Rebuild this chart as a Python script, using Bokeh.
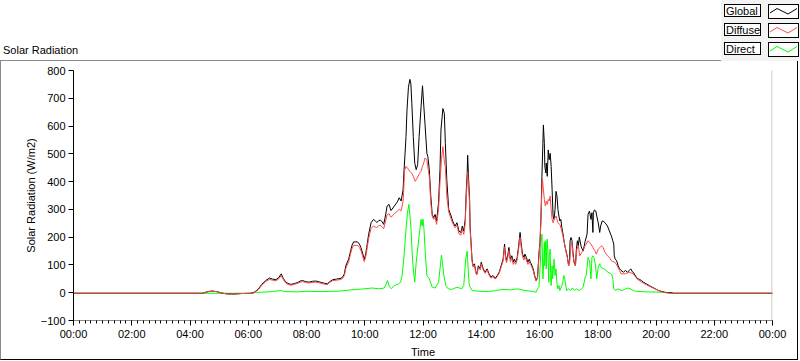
from bokeh.plotting import figure
from bokeh.models import Range1d, FixedTicker, PolyAnnotation, Div
from bokeh.layouts import column
from bokeh.embed import file_html
from bokeh.resources import INLINE

# ---------------- data ----------------
x_tick_hours = [0, 2, 4, 6, 8, 10, 12, 14, 16, 18, 20, 22, 24]
x_tick_labels = ["00:00", "02:00", "04:00", "06:00", "08:00", "10:00", "12:00",
                 "14:00", "16:00", "18:00", "20:00", "22:00", "00:00"]
y_ticks = [-100, 0, 100, 200, 300, 400, 500, 600, 700, 800]

global_time = ["00:00", "04:25", "04:35", "04:45", "04:55", "05:05", "05:15", "05:30", "05:45", "06:05",
    "06:11", "06:20", "06:28", "06:36", "06:44", "06:50", "06:57", "07:03", "07:08", "07:12",
    "07:17", "07:22", "07:28", "07:35", "07:42", "07:47", "07:52", "07:58", "08:05", "08:12",
    "08:19", "08:25", "08:30", "08:37", "08:43", "08:48", "08:54", "09:02", "09:11", "09:15",
    "09:18", "09:21", "09:27", "09:31", "09:34", "09:37", "09:45", "09:49", "09:52", "09:56",
    "09:59", "10:02", "10:04", "10:08", "10:13", "10:18", "10:22", "10:25", "10:28", "10:32",
    "10:36", "10:39", "10:43", "10:46", "10:50", "10:54", "10:58", "11:01", "11:05", "11:08",
    "11:11", "11:15", "11:19", "11:21", "11:23", "11:25", "11:27", "11:30", "11:33", "11:35",
    "11:37", "11:40", "11:43", "11:46", "11:49", "11:52", "11:56", "11:59", "12:01", "12:04",
    "12:08", "12:10", "12:13", "12:16", "12:19", "12:22", "12:25", "12:28", "12:32", "12:35",
    "12:37", "12:41", "12:44", "12:46", "12:49", "12:53", "12:58", "13:01", "13:06", "13:10",
    "13:14", "13:18", "13:21", "13:24", "13:27", "13:29", "13:31", "13:32", "13:34", "13:36",
    "13:37", "13:39", "13:41", "13:43", "13:46", "13:49", "13:51", "13:54", "13:58", "14:00",
    "14:04", "14:08", "14:12", "14:16", "14:20", "14:24", "14:29", "14:33", "14:37", "14:41",
    "14:45", "14:48", "14:50", "14:52", "14:55", "14:57", "15:00", "15:03", "15:06", "15:08",
    "15:11", "15:14", "15:17", "15:20", "15:22", "15:25", "15:28", "15:30", "15:33", "15:36",
    "15:39", "15:41", "15:43", "15:47", "15:50", "15:53", "15:56", "15:59", "16:01", "16:03",
    "16:05", "16:07", "16:08", "16:10", "16:11", "16:13", "16:14", "16:16", "16:18", "16:20",
    "16:22", "16:24", "16:26", "16:28", "16:30", "16:32", "16:34", "16:36", "16:38", "16:40",
    "16:42", "16:44", "16:46", "16:49", "16:51", "16:53", "16:57", "17:00", "17:02", "17:03",
    "17:05", "17:07", "17:09", "17:11", "17:14", "17:16", "17:18", "17:20", "17:22", "17:26",
    "17:30", "17:34", "17:38", "17:40", "17:43", "17:46", "17:48", "17:50", "17:51", "17:53",
    "17:56", "17:58", "18:01", "18:04", "18:06", "18:09", "18:11", "18:15", "18:20", "18:24",
    "18:28", "18:31", "18:33", "18:34", "18:36", "18:39", "18:42", "18:45", "18:48", "18:53",
    "18:57", "19:01", "19:05", "19:08", "19:11", "19:13", "19:18", "19:21", "19:26", "19:30",
    "19:34", "19:40", "19:46", "19:52", "19:59", "20:05", "20:11", "20:20", "20:33", "20:36",
    "24:00"]
global_wm2 = [-2, -2, 3, 6, 4, -1, -4, -5, -3, -2,
    0, 12, 30, 44, 53, 49, 47, 55, 68, 52,
    39, 33, 30, 33, 37, 42, 44, 40, 38, 41,
    42, 40, 37, 34, 32, 40, 47, 49, 52, 58,
    68, 97, 122, 152, 172, 183, 183, 175, 163, 140,
    119, 140, 163, 210, 252, 264, 258, 253, 258, 262,
    255, 246, 280, 312, 318, 296, 305, 312, 322, 330,
    342, 330, 371, 443, 500, 562, 657, 740, 768, 752,
    681, 562, 467, 443, 461, 562, 669, 745, 690, 610,
    502, 490, 443, 348, 282, 270, 282, 258, 324, 443,
    586, 663, 645, 538, 407, 300, 276, 258, 240, 252,
    222, 217, 240, 222, 264, 360, 431, 495, 407, 336,
    240, 181, 121, 97, 104, 74, 68, 97, 86, 110,
    86, 74, 86, 68, 56, 62, 52, 62, 74, 97,
    121, 175, 133, 115, 139, 163, 121, 133, 110, 121,
    110, 127, 169, 217, 181, 139, 127, 139, 127, 110,
    121, 110, 104, 86, 62, 44, 56, 145, 181, 270,
    419, 538, 604, 538, 455, 431, 467, 419, 514, 479,
    502, 455, 371, 276, 264, 300, 365, 348, 300, 276,
    258, 264, 235, 205, 181, 163, 133, 97, 121, 187,
    199, 187, 145, 110, 97, 157, 187, 169, 200, 165,
    150, 185, 211, 282, 294, 264, 288, 217, 288, 298,
    294, 276, 252, 217, 240, 258, 258, 252, 240, 222,
    205, 187, 175, 133, 121, 115, 97, 86, 80, 74,
    80, 74, 80, 86, 76, 74, 60, 52, 48, 44,
    38, 32, 26, 20, 14, 8, 5, 1, 0, -2,
    -2]

diffuse_time = ["00:00", "04:25", "04:35", "04:45", "04:55", "05:05", "05:15", "05:30", "05:45", "06:05",
    "06:11", "06:20", "06:28", "06:36", "06:44", "06:50", "06:57", "07:03", "07:08", "07:12",
    "07:17", "07:22", "07:28", "07:35", "07:42", "07:47", "07:52", "07:58", "08:05", "08:12",
    "08:19", "08:25", "08:30", "08:37", "08:43", "08:48", "08:54", "09:02", "09:11", "09:15",
    "09:18", "09:21", "09:27", "09:31", "09:34", "09:37", "09:45", "09:49", "09:52", "09:56",
    "09:59", "10:02", "10:04", "10:08", "10:13", "10:18", "10:22", "10:25", "10:28", "10:32",
    "10:36", "10:39", "10:43", "10:46", "10:50", "10:54", "10:58", "11:01", "11:05", "11:08",
    "11:11", "11:15", "11:19", "11:20", "11:22", "11:25", "11:28", "11:33", "11:37", "11:40",
    "11:44", "11:48", "11:53", "11:56", "11:59", "12:02", "12:04", "12:08", "12:11", "12:13",
    "12:16", "12:19", "12:22", "12:25", "12:28", "12:32", "12:35", "12:38", "12:41", "12:44",
    "12:46", "12:49", "12:53", "12:58", "13:01", "13:06", "13:10", "13:14", "13:18", "13:21",
    "13:24", "13:27", "13:29", "13:31", "13:32", "13:34", "13:36", "13:37", "13:39", "13:41",
    "13:43", "13:46", "13:49", "13:51", "13:54", "13:58", "14:00", "14:04", "14:08", "14:12",
    "14:16", "14:20", "14:24", "14:29", "14:33", "14:37", "14:41", "14:45", "14:48", "14:50",
    "14:52", "14:55", "14:57", "15:00", "15:03", "15:06", "15:08", "15:11", "15:14", "15:17",
    "15:20", "15:22", "15:25", "15:28", "15:30", "15:33", "15:36", "15:39", "15:41", "15:43",
    "15:47", "15:50", "15:53", "15:56", "15:59", "16:01", "16:03", "16:05", "16:06", "16:08",
    "16:10", "16:12", "16:14", "16:16", "16:18", "16:20", "16:22", "16:24", "16:26", "16:28",
    "16:30", "16:34", "16:38", "16:42", "16:46", "16:51", "16:55", "16:58", "17:00", "17:02",
    "17:05", "17:07", "17:09", "17:12", "17:14", "17:17", "17:20", "17:23", "17:27", "17:31",
    "17:34", "17:40", "17:43", "17:46", "17:50", "17:54", "17:57", "18:01", "18:08", "18:11",
    "18:15", "18:20", "18:24", "18:28", "18:34", "18:38", "18:45", "18:48", "18:57", "19:05",
    "19:13", "19:21", "19:30", "19:40", "19:50", "20:00", "20:11", "20:20", "20:30", "24:00"]
diffuse_wm2 = [-2, -2, 3, 6, 4, -1, -4, -5, -3, -2,
    -1, 10, 27, 40, 48, 45, 43, 50, 62, 48,
    36, 30, 27, 30, 34, 38, 40, 37, 35, 37,
    38, 36, 34, 31, 29, 37, 44, 45, 48, 53,
    62, 88, 112, 142, 160, 170, 171, 163, 152, 130,
    112, 130, 150, 195, 232, 240, 236, 235, 240, 243,
    236, 230, 258, 280, 285, 272, 278, 285, 290, 295,
    300, 295, 330, 360, 440, 455, 449, 437, 430, 419,
    401, 413, 430, 437, 455, 470, 485, 479, 440, 419,
    324, 275, 264, 270, 246, 300, 396, 480, 526, 470,
    455, 348, 290, 265, 250, 234, 243, 212, 208, 228,
    210, 248, 340, 400, 435, 380, 320, 228, 172, 115,
    92, 98, 70, 64, 92, 82, 104, 82, 70, 82,
    64, 52, 58, 49, 58, 70, 92, 114, 165, 126,
    108, 130, 152, 112, 124, 102, 112, 102, 118, 158,
    200, 168, 130, 118, 128, 118, 102, 112, 102, 97,
    80, 58, 42, 52, 133, 175, 264, 371, 410, 371,
    336, 312, 330, 318, 336, 330, 348, 300, 264, 252,
    264, 276, 252, 246, 222, 181, 145, 121, 97, 110,
    169, 181, 133, 104, 97, 157, 169, 133, 145, 157,
    169, 187, 181, 175, 163, 151, 139, 157, 169, 163,
    145, 133, 127, 115, 110, 104, 80, 68, 68, 74,
    68, 50, 38, 29, 20, 12, 4, 0, -2, -2]

direct_time = ["00:00", "06:05", "06:10", "06:30", "06:50", "07:07", "07:15", "07:40", "08:00", "08:30",
    "08:50", "09:10", "09:30", "09:45", "10:00", "10:15", "10:30", "10:40", "10:44", "10:47",
    "10:51", "10:55", "11:01", "11:10", "11:14", "11:17", "11:21", "11:25", "11:28", "11:31",
    "11:35", "11:38", "11:40", "11:43", "11:46", "11:52", "11:56", "11:58", "12:00", "12:02",
    "12:05", "12:08", "12:13", "12:19", "12:25", "12:32", "12:36", "12:38", "12:40", "12:43",
    "12:47", "12:52", "13:00", "13:10", "13:20", "13:24", "13:26", "13:28", "13:31", "13:33",
    "13:35", "13:37", "13:41", "13:50", "14:00", "14:15", "14:30", "14:45", "15:00", "15:15",
    "15:30", "15:45", "15:53", "15:56", "15:59", "16:01", "16:02", "16:03", "16:05", "16:06",
    "16:07", "16:09", "16:10", "16:11", "16:12", "16:14", "16:15", "16:16", "16:18", "16:19",
    "16:20", "16:22", "16:23", "16:24", "16:26", "16:27", "16:29", "16:30", "16:32", "16:34",
    "16:36", "16:38", "16:40", "16:42", "16:46", "16:48", "16:50", "16:52", "16:54", "16:56",
    "17:00", "17:04", "17:08", "17:12", "17:16", "17:22", "17:26", "17:30", "17:34", "17:36",
    "17:38", "17:40", "17:43", "17:46", "17:48", "17:50", "17:52", "17:55", "17:58", "18:01",
    "18:04", "18:06", "18:09", "18:13", "18:17", "18:21", "18:25", "18:29", "18:31", "18:33",
    "18:36", "18:42", "18:48", "18:55", "19:01", "19:07", "19:13", "19:20", "19:40", "20:10",
    "20:25", "20:30", "24:00"]
direct_wm2 = [-2, -2, 1, 2, 4, 8, 4, 3, 5, 4,
    5, 6, 10, 12, 14, 17, 14, 17, 30, 44,
    20, 15, 26, 32, 38, 62, 133, 229, 288, 318,
    240, 133, 86, 38, 110, 205, 264, 240, 265, 230,
    133, 62, 50, 20, 17, 38, 100, 135, 110, 62,
    26, 14, 12, 20, 14, 26, 74, 121, 150, 86,
    32, 20, 8, 6, 5, 4, 8, 12, 10, 14,
    8, 5, 2, 14, 20, 86, 115, 181, 211, 133,
    50, 121, 181, 97, 187, 86, 181, 193, 110, 38,
    133, 157, 62, 26, 97, 50, 97, 121, 62, 86,
    32, 14, 26, 8, 26, 38, 62, 50, 26, 8,
    14, 8, 17, 8, 14, 8, 14, 20, 56, 62,
    92, 127, 115, 50, 127, 133, 127, 104, 50, 92,
    104, 95, 88, 86, 80, 74, 71, 64, 50, 14,
    8, 14, 8, 11, 17, 14, 8, 5, 3, 2,
    0, -2, -2]

chart_title = "Solar Radiation"
series_names = ["Global", "Diffuse", "Direct"]
series_colors = ["#000000", "#ff4646", "#00ff00"]


def to_hours(hhmm):
    h, m = hhmm.split(":")
    return int(h) + int(m) / 60.0


FONT = "Liberation Sans"

# ---------------- header strip: title + LabVIEW-style legend ----------------
parts = [
    '<div style="position:relative;width:800px;height:61px;overflow:visible;margin:0;padding:0;'
    f"font-family:'{FONT}';font-size:11px;color:black;\">",
    '<div style="position:absolute;left:721px;top:0px;width:79px;height:61px;background:#f3f3f3;"></div>',
    '<div style="position:absolute;left:0px;top:60px;width:721px;height:1px;background:#8a8a8a;"></div>',
    f'<span style="position:absolute;left:3px;top:43px;line-height:14px;white-space:nowrap;">{chart_title}</span>',
]
for i, (name, color) in enumerate(zip(series_names, series_colors)):
    top = 4 + 19 * i
    parts.append(
        f'<div style="position:absolute;left:724px;top:{top}px;width:37px;height:13px;'
        'border:1px solid black;background:white;line-height:13px;padding-left:1px;'
        f'white-space:nowrap;">{name}</div>')
    parts.append(
        f'<svg style="position:absolute;left:768px;top:{top}px;" width="31" height="15">'
        '<rect x="0.5" y="0.5" width="30" height="14" fill="white" stroke="black" stroke-width="1"/>'
        f'<polyline points="2,9 9,4.5 20,10 29,4.5" fill="none" stroke="{color}" stroke-width="1"/>'
        '</svg>')
parts.append("</div>")
header = Div(text="".join(parts), width=800, height=61, margin=0)

# ---------------- main chart ----------------
p = figure(width=798, height=299, x_range=Range1d(0, 24), y_range=Range1d(-100, 800),
           output_backend="svg", toolbar_location=None,
           min_border_left=72, min_border_right=27, min_border_top=9, min_border_bottom=38,
           background_fill_color="white", border_fill_color="white", margin=0)
p.styles = {"border-left": "1px solid #8a8a8a", "border-right": "1px solid black",
            "border-bottom": "1px solid black"}
p.grid.visible = False
p.outline_line_color = None

xa = p.xaxis[0]
xa.ticker = FixedTicker(ticks=x_tick_hours, minor_ticks=[i / 5.0 for i in range(0, 121)])
xa.major_label_overrides = {h: lab for h, lab in zip(x_tick_hours, x_tick_labels)}
xa.axis_line_color = "#8a8a8a"
xa.major_tick_line_color = "black"
xa.minor_tick_line_color = "black"
xa.major_tick_in = 0
xa.major_tick_out = 5
xa.minor_tick_in = 0
xa.minor_tick_out = 3
xa.major_label_standoff = 2
xa.axis_label = "Time"
xa.axis_label_standoff = 3

ya = p.yaxis[0]
ya.ticker = FixedTicker(ticks=y_ticks)
ya.minor_tick_line_color = None
ya.axis_line_color = "black"
ya.major_tick_line_color = "black"
ya.major_tick_in = 0
ya.major_tick_out = 5
ya.major_label_standoff = 3
ya.axis_label = "Solar Radiation (W/m2)"
ya.axis_label_standoff = 1

for ax in (xa, ya):
    ax.major_label_text_font = FONT
    ax.major_label_text_font_size = "11px"
    ax.major_label_text_color = "black"
    ax.axis_label_text_font = FONT
    ax.axis_label_text_font_size = "11px"
    ax.axis_label_text_font_style = "normal"
    ax.axis_label_text_color = "black"

# data lines: direct below, then global, diffuse on top
p.line([to_hours(t) for t in direct_time], direct_wm2, line_color=series_colors[2], line_width=1)
p.line([to_hours(t) for t in global_time], global_wm2, line_color=series_colors[0], line_width=1)
p.line([to_hours(t) for t in diffuse_time], diffuse_wm2, line_color=series_colors[1], line_width=1)

# frame top (black) and right (gray) edges, in screen units relative to the frame
FW, FH = 699, 252
p.add_layout(PolyAnnotation(xs=[0, FW, 0], ys=[FH - 0.5, FH - 0.5, FH - 0.5],
                            xs_units="screen", ys_units="screen",
                            line_color="black", line_width=1, fill_color=None, fill_alpha=0))
p.add_layout(PolyAnnotation(xs=[FW - 0.5, FW - 0.5, FW - 0.5], ys=[0, FH, 0],
                            xs_units="screen", ys_units="screen",
                            line_color="#8a8a8a", line_width=1, fill_color=None, fill_alpha=0))

layout = column(header, p, spacing=0)
open("out.html", "w").write(file_html(layout, INLINE))
